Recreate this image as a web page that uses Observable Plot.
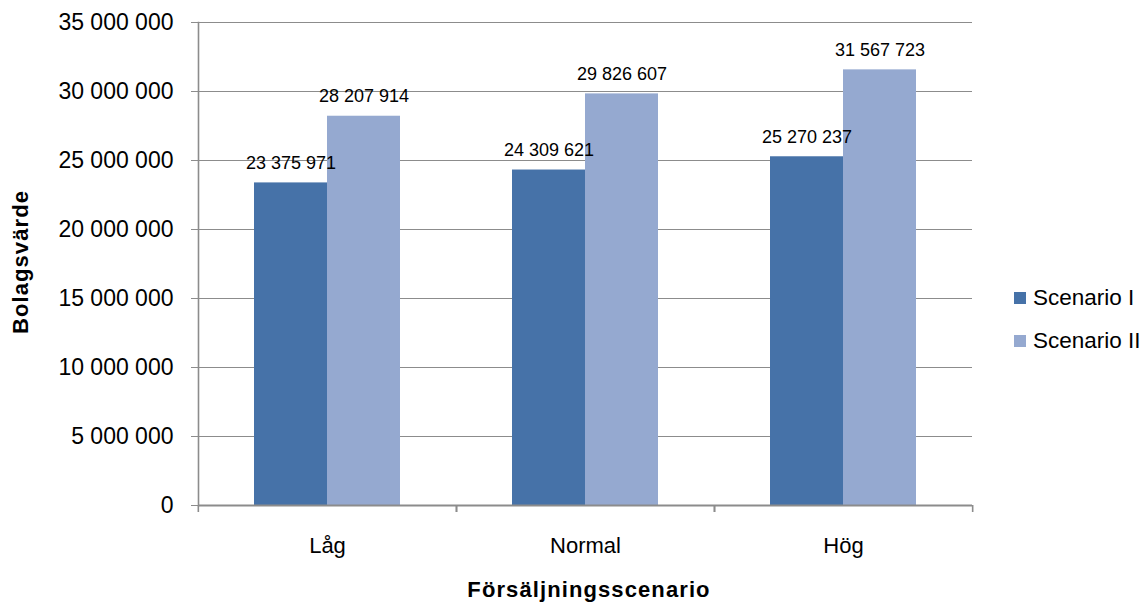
<!DOCTYPE html>
<html>
<head>
<meta charset="utf-8">
<script src="https://cdn.jsdelivr.net/npm/d3@7"></script>
<script src="https://cdn.jsdelivr.net/npm/@observablehq/plot@0.6"></script>
<style>
  body { margin: 0; background: #fff; font-family: "Liberation Sans", Arial, sans-serif; color: #000; }
  #chart { position: relative; width: 1147px; height: 606px; }
  .title { position: absolute; font-weight: bold; font-size: 22px; letter-spacing: 1.1px; white-space: nowrap; }
  #xtitle { left: 589px; top: 590px; transform: translate(-50%, -50%); }
  #ytitle { left: 21px; top: 262px; transform: translate(-50%, -50%) rotate(-90deg); }
  #legend { position: absolute; left: 1014px; top: 276px; font-size: 22.5px; }
  #legend .item { display: flex; align-items: center; height: 43px; white-space: nowrap; }
  #legend .sw { width: 12px; height: 12px; margin-right: 7px; }
</style>
</head>
<body>
<div id="chart"></div>
<script>
// Company value per sales scenario, two valuation scenarios
const categories = ["Låg", "Normal", "Hög"];
const series = ["Scenario I", "Scenario II"];
const scenarioI = [23375971, 24309621, 25270237];
const scenarioII = [28207914, 29826607, 31567723];
const yTicks = [0, 5000000, 10000000, 15000000, 20000000, 25000000, 30000000, 35000000];
const colors = ["#4672a8", "#95a9d0"];
const yTitle = "Bolagsvärde";
const xTitle = "Försäljningsscenario";

const rows = categories.flatMap((c, i) => [
  {category: c, series: series[0], value: scenarioI[i]},
  {category: c, series: series[1], value: scenarioII[i]}
]);

// Swedish style thousands grouping with spaces
const fmt = v => d3.format(",")(v).replace(/,/g, " ");

const W = 1147, H = 606;
const mL = 197, mR = 175, mT = 22, mB = 101;
const band = (W - mL - mR) / categories.length;
const axisGray = "#8c8c8c";

const plot = Plot.plot({
  width: W,
  height: H,
  marginLeft: mL,
  marginRight: mR,
  marginTop: mT,
  marginBottom: mB,
  style: {fontFamily: "'Liberation Sans', Arial, sans-serif", background: "#fff", color: "#000", overflow: "visible"},
  fx: {domain: categories, padding: 0, label: null, axis: null},
  x: {domain: series, paddingInner: 0, paddingOuter: 0.75, axis: null},
  y: {domain: [0, 35000000], label: null},
  color: {domain: series, range: colors},
  marks: [
    Plot.gridY(yTicks, {stroke: axisGray, strokeOpacity: 1, strokeWidth: 1.2}),
    Plot.barY(rows, {fx: "category", x: "series", y: "value", fill: "series"}),
    Plot.text(rows, {
      fx: "category", x: "series", y: "value",
      text: d => fmt(d.value),
      lineAnchor: "bottom", dy: -14, fontSize: 18, fill: "#000"
    }),
    Plot.axisY(yTicks, {
      tickFormat: fmt, tickSize: 7, tickPadding: 18, fontSize: 23, letterSpacing: 1.3,
      stroke: axisGray, strokeOpacity: 1, label: null
    }),
    Plot.frame({anchor: "left", facetAnchor: "left", stroke: axisGray, strokeWidth: 1.6}),
    Plot.ruleY([0], {stroke: axisGray, strokeWidth: 2}),
    Plot.axisFx({anchor: "bottom", tickSize: 0, tickPadding: 32, fontSize: 22, label: null}),
    Plot.axisFx({anchor: "bottom", tickSize: 7, tickFormat: () => "", dx: -band / 2, stroke: axisGray, strokeWidth: 1.6, label: null}),
    Plot.axisFx([categories[categories.length - 1]], {anchor: "bottom", tickSize: 7, tickFormat: () => "", dx: band / 2, stroke: axisGray, strokeWidth: 1.6, label: null})
  ]
});

const chart = document.getElementById("chart");
chart.appendChild(plot);

const xt = document.createElement("div");
xt.id = "xtitle"; xt.className = "title"; xt.textContent = xTitle;
chart.appendChild(xt);
const yt = document.createElement("div");
yt.id = "ytitle"; yt.className = "title"; yt.textContent = yTitle;
chart.appendChild(yt);

// Legend built from the plot's color scale
const color = plot.scale("color");
const legend = document.createElement("div");
legend.id = "legend";
color.domain.forEach((s, i) => {
  const item = document.createElement("div");
  item.className = "item";
  const sw = document.createElement("span");
  sw.className = "sw";
  sw.style.background = color.range[i];
  const label = document.createElement("span");
  label.textContent = s;
  item.appendChild(sw);
  item.appendChild(label);
  legend.appendChild(item);
});
chart.appendChild(legend);
</script>
</body>
</html>
